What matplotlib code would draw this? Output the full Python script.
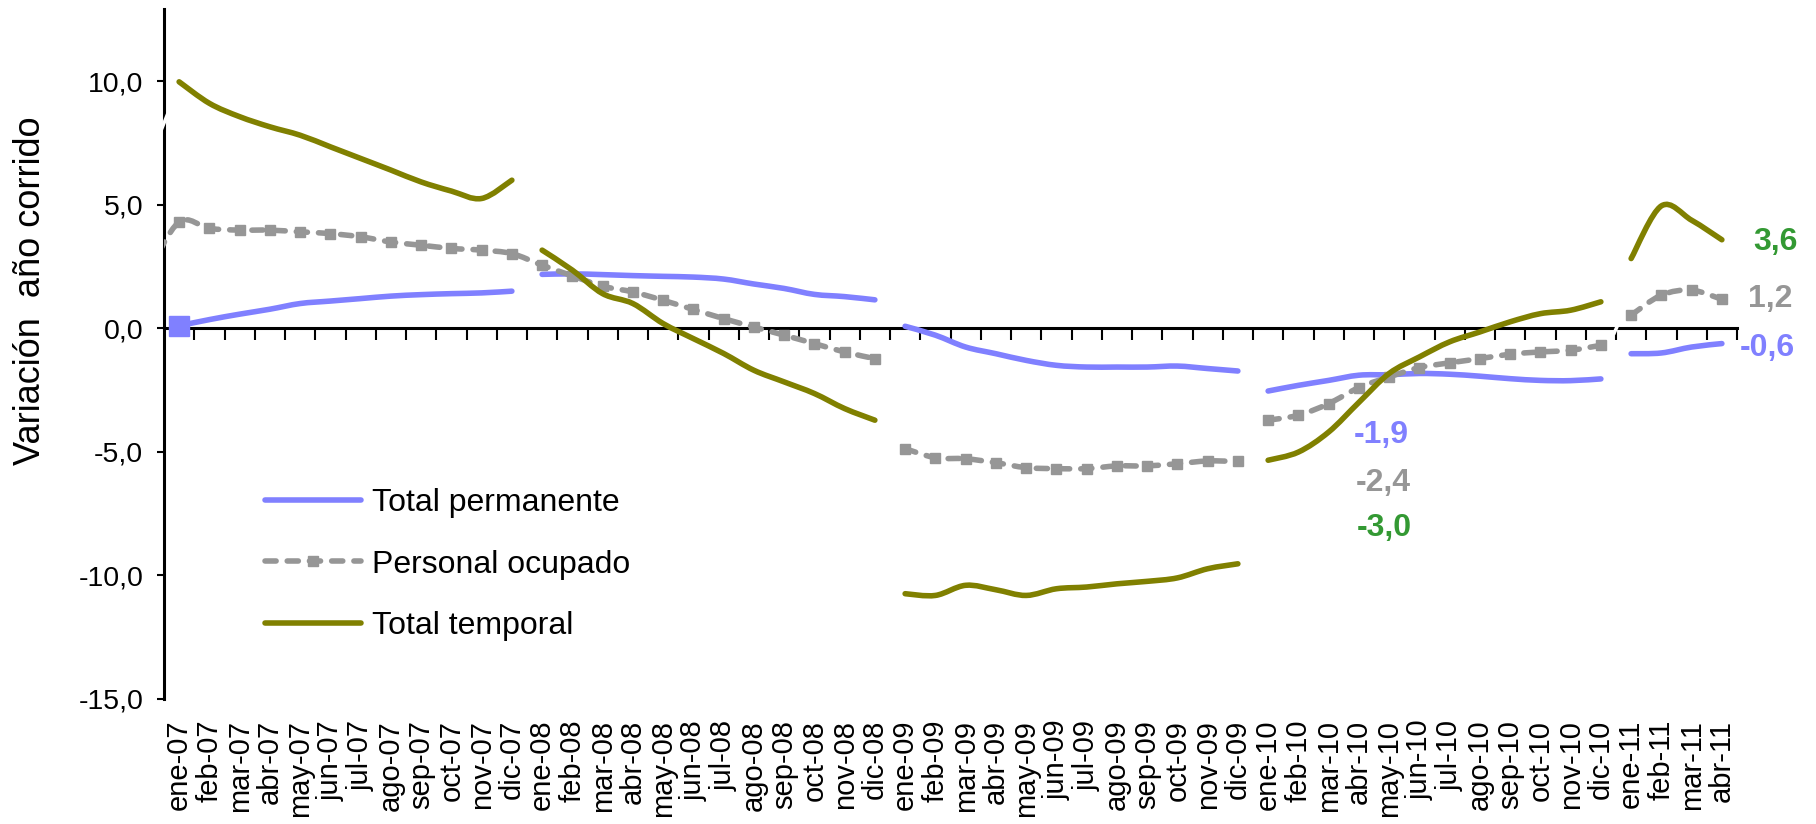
import matplotlib
matplotlib.use("Agg")
import matplotlib.pyplot as plt
from matplotlib.path import Path
from matplotlib.patches import PathPatch
from matplotlib.lines import Line2D

plt.rcParams['font.family'] = ['Liberation Sans', 'DejaVu Sans']

# Meses (ene-07 .. abr-11)
abrev = ['ene', 'feb', 'mar', 'abr', 'may', 'jun', 'jul', 'ago', 'sep', 'oct', 'nov', 'dic']
meses = [f'{m}-{a:02d}' for a in (7, 8, 9, 10) for m in abrev] + [f'{m}-11' for m in abrev[:4]]

# Variación año corrido (%)
total_permanente = [
    0.10, 0.35, 0.57, 0.77, 1.00, 1.10, 1.20, 1.30, 1.36, 1.40, 1.43, 1.50,
    2.18, 2.20, 2.17, 2.13, 2.10, 2.07, 1.99, 1.79, 1.61, 1.37, 1.28, 1.15,
    0.08, -0.28, -0.76, -1.03, -1.30, -1.50, -1.57, -1.57, -1.57, -1.53, -1.63, -1.73,
    -2.54, -2.31, -2.11, -1.90, -1.88, -1.83, -1.86, -1.94, -2.04, -2.11, -2.12, -2.05,
    -1.03, -1.00, -0.76, -0.62,
]
personal_ocupado = [
    4.30, 4.04, 3.97, 3.97, 3.90, 3.83, 3.70, 3.49, 3.36, 3.23, 3.16, 3.02,
    2.55, 2.12, 1.70, 1.47, 1.13, 0.76, 0.39, 0.05, -0.28, -0.62, -0.96, -1.23,
    -4.87, -5.24, -5.28, -5.44, -5.64, -5.68, -5.68, -5.57, -5.57, -5.48, -5.37, -5.39,
    -3.72, -3.52, -3.05, -2.40, -1.97, -1.59, -1.40, -1.23, -1.05, -0.96, -0.89, -0.69,
    0.53, 1.34, 1.54, 1.17,
]
personal_ocupado_dic06 = 2.3   # valor previo (queda cortado por el eje)
total_temporal = [
    9.97, 9.10, 8.56, 8.15, 7.81, 7.34, 6.87, 6.40, 5.92, 5.55, 5.25, 5.99,
    3.16, 2.35, 1.40, 1.00, 0.19, -0.42, -1.02, -1.70, -2.17, -2.64, -3.25, -3.72,
    -10.74, -10.81, -10.40, -10.58, -10.81, -10.54, -10.47, -10.34, -10.24, -10.10, -9.73, -9.53,
    -5.34, -5.01, -4.20, -3.00, -1.83, -1.16, -0.55, -0.15, 0.26, 0.59, 0.73, 1.07,
    2.82, 4.95, 4.37, 3.58,
]

AZUL = '#8080FF'
GRIS = '#969696'
OLIVA = '#808000'
VERDE = '#339933'


def curva(xs, ys):
    # linea suavizada (bezier) como la de Excel
    pts = list(zip(xs, ys))
    verts = [pts[0]]
    codes = [Path.MOVETO]
    for k in range(len(pts) - 1):
        p0 = pts[k - 1] if k > 0 else pts[k]
        p1, p2 = pts[k], pts[k + 1]
        p3 = pts[k + 2] if k + 2 < len(pts) else p2
        c1 = (p1[0] + (p2[0] - p0[0]) / 6, p1[1] + (p2[1] - p0[1]) / 6)
        c2 = (p2[0] - (p3[0] - p1[0]) / 6, p2[1] - (p3[1] - p1[1]) / 6)
        verts += [c1, c2, p2]
        codes += [Path.CURVE4] * 3
    return Path(verts, codes)


def tramos(ax, xs, ys, cortes, **kw):
    for a, b in zip(cortes[:-1], cortes[1:]):
        ax.add_patch(PathPatch(curva(xs[a:b], ys[a:b]), fill=False, **kw))


fig = plt.figure(figsize=(18.16, 8.24), dpi=100)
ax = fig.add_axes([164 / 1816, 1 - 699 / 824, (1737 - 164) / 1816, (699 - 9.4) / 824])

n = len(meses)
x = list(range(n))
LW = 4.0
estilo = dict(capstyle='round', joinstyle='round', zorder=3)

# Total permanente
tramos(ax, x, total_permanente, [0, 12, 24, 36, 48, n], edgecolor=AZUL, lw=LW, **estilo)
ax.plot([0], [total_permanente[0]], 's', color=AZUL, ms=14, zorder=4, clip_on=False)

# Personal ocupado (incluye dic-06 al inicio)
xg = [-1] + x
yg = [personal_ocupado_dic06] + personal_ocupado
tramos(ax, xg, yg, [0, 25, 37, 49, n + 1], edgecolor=GRIS, lw=LW,
       linestyle=(0, (2.0, 2.0)), **estilo)
ax.plot(x, personal_ocupado, 's', color=GRIS, ms=7, zorder=3)

# Total temporal
tramos(ax, x, total_temporal, [0, 12, 24, 36, 48, n], edgecolor=OLIVA, lw=LW, **estilo)

ax.set_xlim(-0.5, n - 0.5)
ax.set_ylim(-15, 12.9)

# eje y
ax.set_yticks([-15, -10, -5, 0, 5, 10], ['-15,0', '-10,0', '-5,0', '0,0', '5,0', '10,0'])
ax.tick_params(axis='y', direction='out', length=5, width=1.5, labelsize=20.5, pad=10)
for s in ['top', 'right', 'bottom']:
    ax.spines[s].set_visible(False)
ax.spines['left'].set_linewidth(2.2)

# etiquetas de meses abajo
ax.set_xticks(x, meses, rotation=90)
ax.tick_params(axis='x', length=0, labelsize=21, pad=15)

# eje x cruzando en 0
sec = ax.secondary_xaxis(15 / 27.9)
sec.set_alignment('bottom')
sec.set_xticks([k + 0.5 for k in range(n)])
sec.tick_params(axis='x', direction='out', length=8.5, width=1.5, labelbottom=False, labeltop=False)
sec.spines['bottom'].set_linewidth(2.2)

# marcas de corte
ax.plot([-0.63, -0.37], [7.9, 8.7], color='white', lw=2.5, clip_on=False, zorder=6,
        solid_capstyle='butt')
ax.plot([47.42, 47.62], [-0.25, 0.3], color='white', lw=2.5, clip_on=False, zorder=6,
        solid_capstyle='butt')

fig.text(31 / 1816, 1 - 291 / 824, 'Variación  año corrido', rotation=90,
         ha='center', va='center', fontsize=26)

# leyenda
handles = [
    Line2D([], [], color=AZUL, lw=LW, solid_capstyle='round'),
    Line2D([], [], color=GRIS, lw=LW, linestyle=(0, (2.0, 2.0)), dash_capstyle='round',
           marker='s', ms=7),
    Line2D([], [], color=OLIVA, lw=LW, solid_capstyle='round'),
]
ax.legend(handles, ['Total permanente', 'Personal ocupado', 'Total temporal'],
          loc='upper left', bbox_to_anchor=(0.064, 0.306), frameon=False,
          fontsize=23, handlelength=3.0, handletextpad=0.35, labelspacing=0.99,
          borderpad=0, borderaxespad=0)

# etiquetas de datos
bold = dict(fontsize=23, fontweight='bold', va='center', ha='left', clip_on=False)
ax.text(38.84, -4.33, '-1,9', color=AZUL, **bold)
ax.text(38.90, -6.28, '-2,4', color=GRIS, **bold)
ax.text(38.94, -8.10, '-3,0', color=VERDE, **bold)
ax.text(52.03, 3.50, '3,6', color=VERDE, **bold)
ax.text(51.86, 1.19, '1,2', color=GRIS, **bold)
ax.text(51.60, -0.79, '-0,6', color=AZUL, **bold)

fig.savefig('out.png', dpi=100)
